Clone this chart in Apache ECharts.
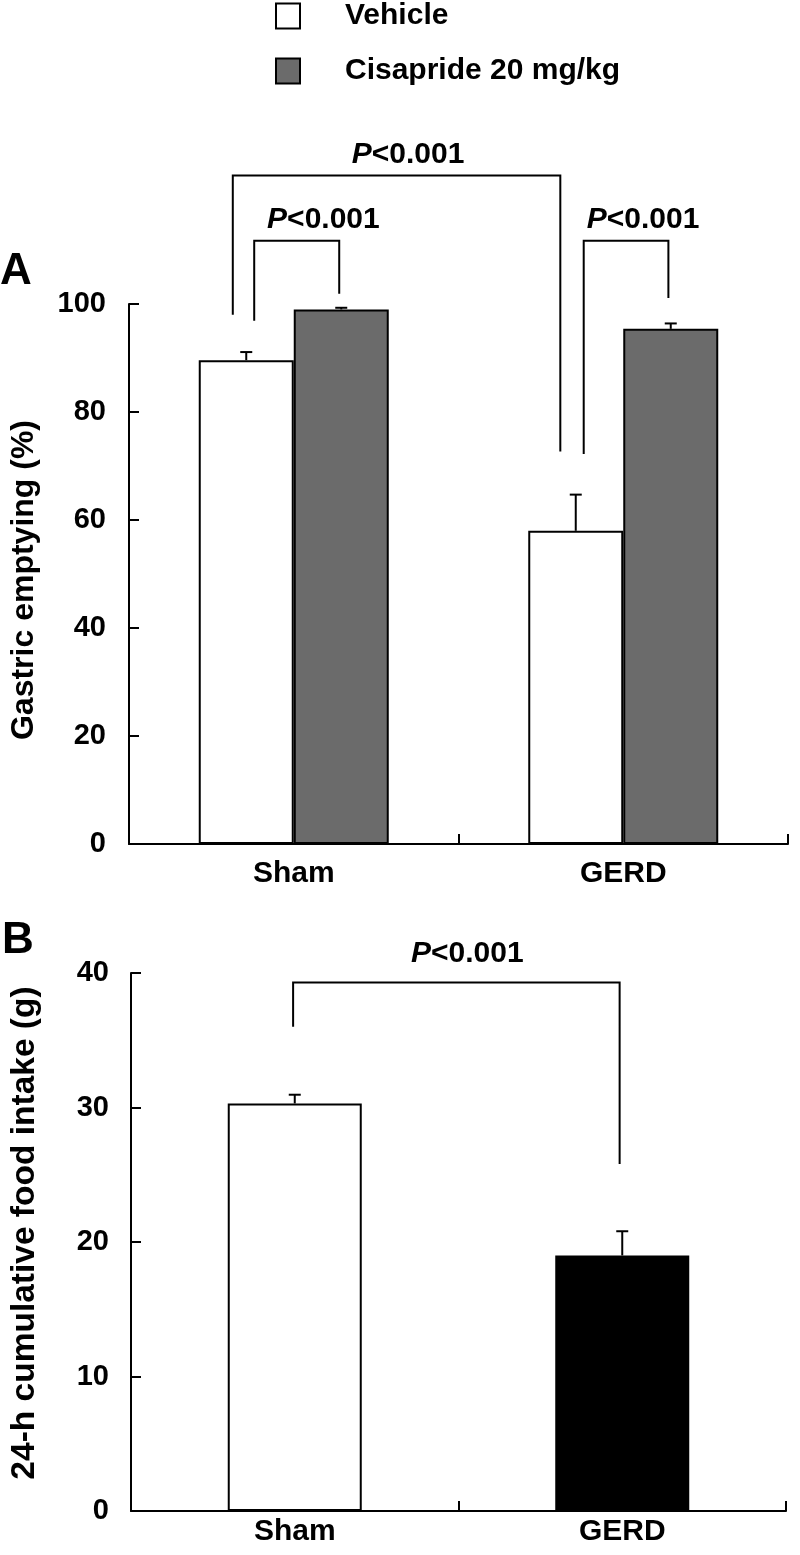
<!DOCTYPE html>
<html><head><meta charset="utf-8">
<script src="https://cdn.jsdelivr.net/npm/echarts@6/dist/echarts.min.js"></script>
<style>html,body{margin:0;padding:0;background:#fff}#c{width:800px;height:1555px}</style>
</head><body><div id="c"></div>
<script>
// ---- data ----
const categories = ['Sham', 'GERD'];
const seriesNames = ['Vehicle', 'Cisapride 20 mg/kg'];
const vehicleMean = [89.6, 58.0];
const vehicleErr = [1.5, 6.7];
const cisaprideMean = [99.0, 95.4];
const cisaprideErr = [0.3, 1.0];
const foodCategories = ['Sham', 'GERD'];
const foodMean = [30.3, 19.0];
const foodErr = [0.65, 1.8];
const pText = 'P<0.001';

// ---- annotation layout (category index + fraction of band, y in data units) ----
const bracketsA = [
  {l:[0,-0.185], r:[1,-0.191], top:123.8, lEnd:98.0, rEnd:72.7, lab:[0,0.347,127.6]},
  {l:[0,-0.12], r:[0,0.138], top:111.7, lEnd:96.9, rEnd:101.9, lab:[0,0.09,115.6]},
  {l:[1,-0.12], r:[1,0.137], top:111.7, lEnd:72.2, rEnd:101.1, lab:[1,0.06,115.6]}
];
const bracketsB = [
  {l:[0,-0.005], r:[1,-0.008], top:39.3, lEnd:36.0, rEnd:25.8, lab:[0,0.527,41.4]}
];

const FONT = '"Liberation Sans", Arial, sans-serif';
const BAR_A = 95, BAR_B = 134;

function errRender(offset) {
  return function (params, api) {
    const i = api.value(0);
    const base = api.coord([i, api.value(1)]);
    const top = api.coord([i, api.value(2)]);
    const x = base[0] + offset;
    return {
      type: 'group',
      children: [
        {type: 'line', shape: {x1: x, y1: base[1], x2: x, y2: top[1]}, style: {stroke: '#000', lineWidth: 2}},
        {type: 'line', shape: {x1: x - 6, y1: top[1], x2: x + 6, y2: top[1]}, style: {stroke: '#000', lineWidth: 2}}
      ]
    };
  };
}

function bracketRender(list) {
  return function (params, api) {
    const b = list[params.dataIndex];
    const band = api.size([1, 0])[0];
    const xl = api.coord([b.l[0], 0])[0] + b.l[1] * band;
    const xr = api.coord([b.r[0], 0])[0] + b.r[1] * band;
    const yt = api.coord([0, b.top])[1];
    const yl = api.coord([0, b.lEnd])[1];
    const yr = api.coord([0, b.rEnd])[1];
    const lx = api.coord([b.lab[0], 0])[0] + b.lab[1] * band;
    const ly = api.coord([0, b.lab[2]])[1];
    return {
      type: 'group',
      children: [
        {type: 'polyline', shape: {points: [[xl, yl], [xl, yt], [xr, yt], [xr, yr]]},
         style: {stroke: '#000', lineWidth: 2, fill: null}},
        {type: 'text', x: lx, y: ly,
         style: {text: '{i|P}{n|' + pText.slice(1) + '}', align: 'center', verticalAlign: 'middle',
           fill: '#000', fontSize: 30, fontWeight: 'bold', fontFamily: FONT,
           rich: {i: {fontStyle: 'italic', fontWeight: 'bold', fontSize: 30, fontFamily: FONT, fill: '#000'},
                  n: {fontWeight: 'bold', fontSize: 30, fontFamily: FONT, fill: '#000'}}}}
      ]
    };
  };
}

const axisLine = {show: true, lineStyle: {color: '#000', width: 2}};
const axisTick = {show: true, inside: true, length: 10, lineStyle: {color: '#000', width: 2}};
const labelStyle = {color: '#000', fontWeight: 'bold', fontFamily: FONT};

const chart = echarts.init(document.getElementById('c'), null, {renderer: 'canvas'});
chart.setOption({
  animation: false,
  backgroundColor: '#fff',
  legend: {
    data: seriesNames, orient: 'vertical', left: 270, top: -4,
    itemWidth: 24, itemHeight: 25, itemGap: 25, selectedMode: false, icon: 'rect',
    itemStyle: {borderColor: '#000', borderWidth: 2},
    textStyle: {fontSize: 30, fontWeight: 'bold', fontFamily: FONT, color: '#000', padding: [6, 0, 0, 40]}
  },
  graphic: [
    {type: 'text', left: 0, top: 250, style: {text: 'A', fontSize: 44, fontWeight: 'bold', fontFamily: FONT, fill: '#000'}},
    {type: 'text', left: 2, top: 919, style: {text: 'B', fontSize: 44, fontWeight: 'bold', fontFamily: FONT, fill: '#000'}}
  ],
  grid: [
    {left: 123, top: 304, width: 665, height: 540},
    {left: 124, top: 973, width: 662, height: 538}
  ],
  xAxis: [
    {type: 'category', gridIndex: 0, data: categories, axisLine, axisTick,
     axisLabel: Object.assign({fontSize: 30, margin: 15}, labelStyle)},
    {type: 'category', gridIndex: 1, data: foodCategories, axisLine, axisTick,
     axisLabel: Object.assign({fontSize: 30, margin: 6}, labelStyle)}
  ],
  yAxis: [
    {type: 'value', gridIndex: 0, min: 0, max: 100, interval: 20, axisLine, axisTick,
     splitLine: {show: false}, axisLabel: Object.assign({fontSize: 29, margin: 23}, labelStyle),
     name: 'Gastric emptying (%)', nameLocation: 'middle', nameGap: 89, nameRotate: 90,
     nameTextStyle: {fontSize: 32, fontWeight: 'bold', fontFamily: FONT, color: '#000', padding: [0, 12, 0, 0]}},
    {type: 'value', gridIndex: 1, min: 0, max: 40, interval: 10, axisLine, axisTick,
     splitLine: {show: false}, axisLabel: Object.assign({fontSize: 29, margin: 22}, labelStyle),
     name: '24-h cumulative food intake (g)', nameLocation: 'middle', nameGap: 89, nameRotate: 90,
     nameTextStyle: {fontSize: 33.5, fontWeight: 'bold', fontFamily: FONT, color: '#000', padding: [0, 0, 0, 18]}}
  ],
  series: [
    {name: seriesNames[0], type: 'bar', xAxisIndex: 0, yAxisIndex: 0, data: vehicleMean,
     barWidth: BAR_A, barGap: '0%', itemStyle: {color: '#fff', borderColor: '#000', borderWidth: 2}},
    {name: seriesNames[1], type: 'bar', xAxisIndex: 0, yAxisIndex: 0, data: cisaprideMean,
     barWidth: BAR_A, barGap: '0%', itemStyle: {color: '#6b6b6b', borderColor: '#000', borderWidth: 2}},
    {type: 'custom', xAxisIndex: 0, yAxisIndex: 0, z: 5, renderItem: errRender(-BAR_A / 2),
     data: vehicleMean.map((m, i) => [i, m, m + vehicleErr[i]])},
    {type: 'custom', xAxisIndex: 0, yAxisIndex: 0, z: 5, renderItem: errRender(BAR_A / 2),
     data: cisaprideMean.map((m, i) => [i, m, m + cisaprideErr[i]])},
    {type: 'custom', xAxisIndex: 0, yAxisIndex: 0, z: 5, clip: false, renderItem: bracketRender(bracketsA),
     data: bracketsA.map((b, i) => [i])},
    {name: 'Food intake', type: 'bar', xAxisIndex: 1, yAxisIndex: 1, barWidth: BAR_B,
     data: foodMean.map((v, i) => ({value: v, itemStyle: {color: i === 0 ? '#fff' : '#000'}})),
     itemStyle: {borderColor: '#000', borderWidth: 2}},
    {type: 'custom', xAxisIndex: 1, yAxisIndex: 1, z: 5, renderItem: errRender(0),
     data: foodMean.map((m, i) => [i, m, m + foodErr[i]])},
    {type: 'custom', xAxisIndex: 1, yAxisIndex: 1, z: 5, clip: false, renderItem: bracketRender(bracketsB),
     data: bracketsB.map((b, i) => [i])}
  ]
});
</script></body></html>
